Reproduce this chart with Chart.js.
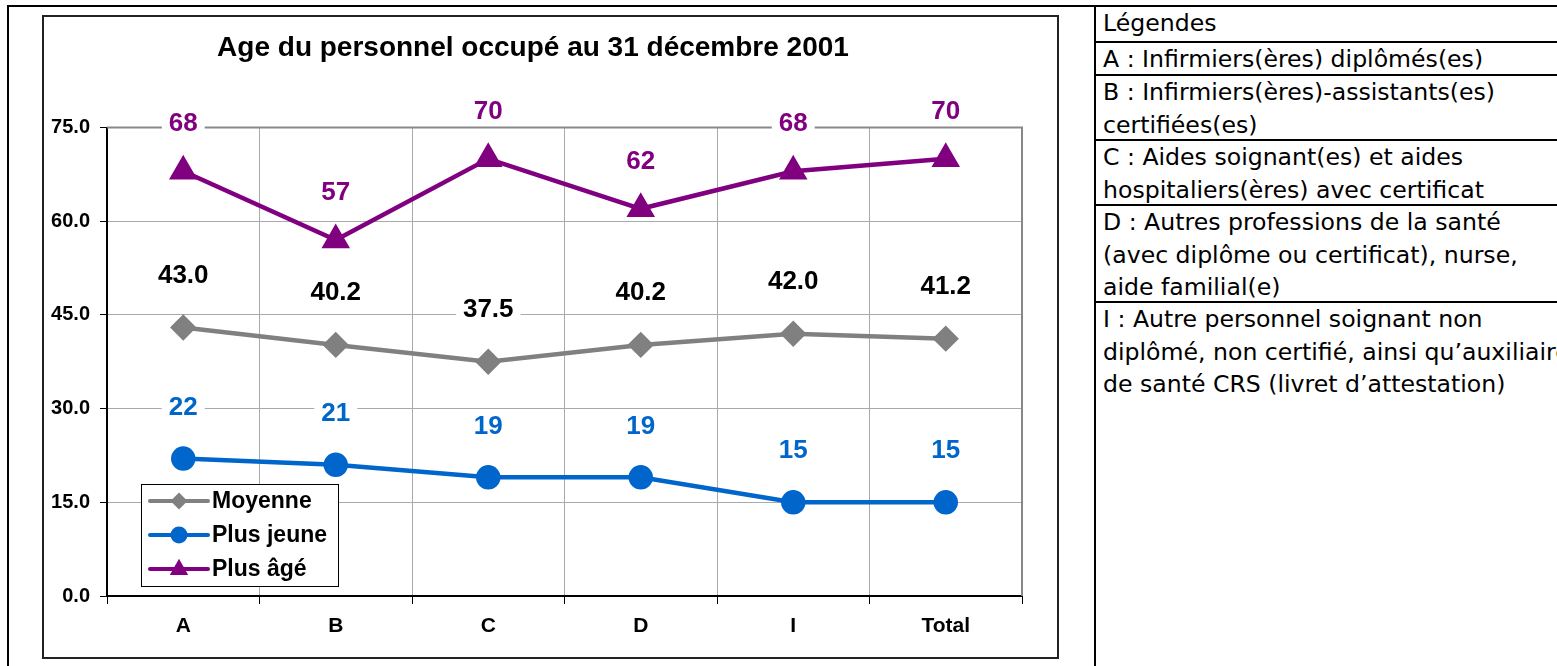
<!DOCTYPE html>
<html>
<head>
<meta charset="utf-8">
<script src="https://cdn.jsdelivr.net/npm/chart.js@4/dist/chart.umd.min.js"></script>
<style>
  html, body { margin: 0; padding: 0; background: #fff; overflow: hidden; }
  body { width: 1557px; height: 666px; position: relative; }
  .hl { position: absolute; height: 2px; background: #000; }
  .vl { position: absolute; width: 2px; background: #000; }
  #frame { position: absolute; left: 42px; top: 15px; width: 1013px; height: 640px; border: 2px solid #222; }
  #legendes { position: absolute; left: 1097px; top: 9px; width: 460px; font-family: "DejaVu Sans", sans-serif; font-size: 23.6px; color: #000; }
  .row { position: absolute; left: 6px; white-space: nowrap; line-height: 32.5px; }
</style>
</head>
<body>
<div class="hl" style="left:8px; top:5px; width:1549px;"></div>
<div class="vl" style="left:7px; top:5px; height:661px;"></div>
<div class="vl" style="left:1094px; top:5px; height:661px;"></div>
<div class="hl" style="left:1095px; top:41px; width:462px;"></div>
<div class="hl" style="left:1095px; top:74px; width:462px;"></div>
<div class="hl" style="left:1095px; top:139px; width:462px;"></div>
<div class="hl" style="left:1095px; top:204px; width:462px;"></div>
<div class="hl" style="left:1095px; top:301px; width:462px;"></div>

<div id="frame"><canvas id="chart" width="1013" height="640"></canvas></div>

<div id="legendes">
  <div class="row" style="top:-2px;">Légendes</div>
  <div class="row" style="top:34px;">A : Infirmiers(ères) diplômés(es)</div>
  <div class="row" style="top:67px;">B : Infirmiers(ères)-assistants(es)<br>certifiées(es)</div>
  <div class="row" style="top:132px;">C : Aides soignant(es) et aides<br>hospitaliers(ères) avec certificat</div>
  <div class="row" style="top:197px;">D : Autres professions de la santé<br>(avec diplôme ou certificat), nurse,<br>aide familial(e)</div>
  <div class="row" style="top:294px;">I : Autre personnel soignant non<br>diplômé, non certifié, ainsi qu’auxiliaire<br>de santé CRS (livret d’attestation)</div>
</div>

<script>
const categories = ['A', 'B', 'C', 'D', 'I', 'Total']
const moyenne = [43.0, 40.2, 37.5, 40.2, 42.0, 41.2]
const plusJeune = [22, 21, 19, 19, 15, 15]
const plusAge = [68, 57, 70, 62, 68, 70]
const yTicks = [0, 15, 30, 45, 60, 75]

const FONT = '"Liberation Sans", Arial, sans-serif'

// distance (px) between a point and its value label, per series
const labelOffset = [53, 52, 48]
const labelDecimals = [1, 0, 0]

function drawMarker(ctx, style, r, x, y, color) {
    ctx.save()
    ctx.fillStyle = color
    ctx.beginPath()
    if (style === 'circle') {
        ctx.arc(x, y, r, 0, Math.PI * 2)
    } else if (style === 'rectRot') {
        ctx.moveTo(x, y - r); ctx.lineTo(x + r, y); ctx.lineTo(x, y + r); ctx.lineTo(x - r, y)
    } else {
        ctx.moveTo(x, y - r); ctx.lineTo(x + r * 0.9, y + r * 0.6); ctx.lineTo(x - r * 0.9, y + r * 0.6)
    }
    ctx.closePath()
    ctx.fill()
    ctx.restore()
}

const plotFrame = {
    id: 'plotFrame',
    beforeDatasetsDraw(chart) {
        const a = chart.chartArea, ctx = chart.ctx
        ctx.save()
        ctx.strokeStyle = '#888'
        ctx.lineWidth = 2
        ctx.beginPath()
        ctx.moveTo(a.left, a.top); ctx.lineTo(a.right, a.top); ctx.lineTo(a.right, a.bottom)
        ctx.stroke()
        ctx.restore()
    }
}

const valueLabels = {
    id: 'valueLabels',
    afterDatasetsDraw(chart) {
        const ctx = chart.ctx
        ctx.save()
        ctx.font = 'bold 26px ' + FONT
        ctx.textAlign = 'center'
        ctx.textBaseline = 'middle'
        chart.data.datasets.forEach((ds, i) => {
            chart.getDatasetMeta(i).data.forEach((pt, j) => {
                const txt = ds.data[j].toFixed(labelDecimals[i])
                const y = pt.y - labelOffset[i]
                const w = ctx.measureText(txt).width
                ctx.fillStyle = '#fff'
                ctx.fillRect(pt.x - w / 2 - 7, y - 14, w + 14, 28)
                ctx.fillStyle = ds.labelColor
                ctx.fillText(txt, pt.x, y + 1)
            })
        })
        ctx.restore()
    }
}

const innerLegend = {
    id: 'innerLegend',
    afterDraw(chart) {
        const ctx = chart.ctx
        const x0 = chart.chartArea.left + 34, y0 = chart.chartArea.bottom - 112
        ctx.save()
        ctx.fillStyle = '#fff'
        ctx.fillRect(x0, y0, 197, 102)
        ctx.strokeStyle = '#000'
        ctx.lineWidth = 1
        ctx.strokeRect(x0 + 0.5, y0 + 0.5, 197, 102)
        ctx.font = 'bold 23px ' + FONT
        ctx.textBaseline = 'middle'
        chart.data.datasets.forEach((ds, i) => {
            const y = y0 + 17 + i * 34
            ctx.strokeStyle = ds.borderColor
            ctx.lineWidth = 4
            ctx.lineCap = 'round'
            ctx.beginPath()
            ctx.moveTo(x0 + 9, y); ctx.lineTo(x0 + 67, y)
            ctx.stroke()
            drawMarker(ctx, ds.pointStyle, ds.pointRadius * 0.85, x0 + 38, y, ds.borderColor)
            ctx.fillStyle = '#000'
            ctx.fillText(ds.label, x0 + 71, y + 1)
        })
        ctx.restore()
    }
}

new Chart(document.getElementById('chart').getContext('2d'), {
    type: 'line',
    data: {
        labels: categories,
        datasets: [
            { label: 'Moyenne', data: moyenne, borderColor: '#808080', backgroundColor: '#808080', labelColor: '#000',
              pointStyle: 'rectRot', pointRadius: 10, borderWidth: 4.5 },
            { label: 'Plus jeune', data: plusJeune, borderColor: '#0066cc', backgroundColor: '#0066cc', labelColor: '#0066cc',
              pointStyle: 'circle', pointRadius: 10, borderWidth: 4.5 },
            { label: 'Plus âgé', data: plusAge, borderColor: '#800080', backgroundColor: '#800080', labelColor: '#800080',
              pointStyle: 'triangle', pointRadius: 12, borderWidth: 4.5 }
        ]
    },
    options: {
        responsive: false,
        animation: false,
        layout: { padding: { left: 0, right: 35, top: 0, bottom: 0 } },
        plugins: {
            legend: { display: false },
            tooltip: { enabled: false },
            title: {
                display: true,
                text: 'Age du personnel occupé au 31 décembre 2001',
                color: '#000',
                font: { family: FONT, size: 28, weight: 'bold' },
                padding: { top: 14, bottom: 63 }
            }
        },
        elements: { line: { tension: 0 }, point: { borderWidth: 0 } },
        scales: {
            x: {
                offset: true,
                grid: { offset: true, color: '#aaa', lineWidth: 1, tickLength: 8, tickColor: '#000' },
                border: { color: '#000', width: 2 },
                ticks: { color: '#000', font: { family: FONT, size: 21, weight: 'bold' }, padding: 10 },
                afterFit(scale) { scale.height = 61 }
            },
            y: {
                min: 0,
                max: 75,
                afterBuildTicks(scale) { scale.ticks = yTicks.map(v => ({ value: v })) },
                grid: { color: '#aaa', lineWidth: 1, tickLength: 7, tickColor: '#000' },
                border: { color: '#000', width: 2 },
                ticks: { color: '#000', font: { family: FONT, size: 20, weight: 'bold' }, padding: 10,
                         callback: v => v.toFixed(1) },
                afterFit(scale) { scale.width = 63 }
            }
        }
    },
    plugins: [plotFrame, valueLabels, innerLegend]
})
</script>
</body>
</html>
